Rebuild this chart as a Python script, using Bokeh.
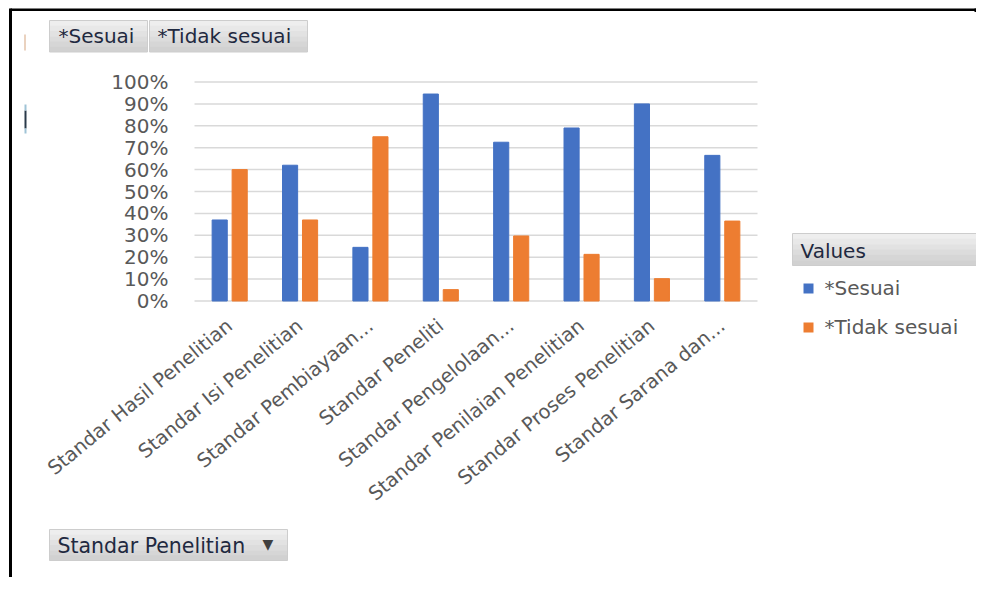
from bokeh.plotting import figure
from bokeh.models import (Range1d, FixedTicker, NumeralTickFormatter,
                          Label, BoxAnnotation, ColumnDataSource)
from bokeh.transform import dodge
from bokeh.embed import file_html
from bokeh.resources import INLINE

# ---- data ----
categories = ["Standar Hasil Penelitian", "Standar Isi Penelitian", "Standar Pembiayaan...",
              "Standar Peneliti", "Standar Pengelolaan...", "Standar Penilaian Penelitian",
              "Standar Proses Penelitian", "Standar Sarana dan..."]
sesuai = [0.37, 0.62, 0.245, 0.945, 0.725, 0.79, 0.90, 0.665]
tidak_sesuai = [0.60, 0.37, 0.75, 0.052, 0.297, 0.213, 0.102, 0.365]
y_ticks = [0.0, 0.1, 0.2, 0.3, 0.4, 0.5, 0.6, 0.7, 0.8, 0.9, 1.0]
series_names = ["*Sesuai", "*Tidak sesuai"]
colors = ["#4472C4", "#ED7D31"]

FONT = "DejaVu Sans"
GRAY = "#595959"
DARK = "#1f2940"
GRID = "#d9d9d9"

# ---- layout in pixels ----
W, H = 976, 577
NCAT = len(categories)
PLOT_L, PLOT_W = 194, 563      # plot-area left edge and width
Y0_PX, UY = 300.5, 219.0       # pixel row of 0 %, pixels per 100 %
UX = PLOT_W / NCAT             # pixels per category

x_range = Range1d(-0.5 - PLOT_L / UX, -0.5 + (W - PLOT_L) / UX)
y_range = Range1d(-(H - Y0_PX) / UY, Y0_PX / UY)

p = figure(width=W, height=H, x_range=x_range, y_range=y_range,
           min_border=0, min_border_left=0, min_border_right=0,
           min_border_top=0, min_border_bottom=0,
           output_backend="svg", toolbar_location=None)
p.outline_line_color = None
p.background_fill_color = "white"
p.border_fill_color = "white"
p.xgrid.visible = False
p.ygrid.visible = False

cat_x = list(range(NCAT))
src = ColumnDataSource(dict(x=cat_x, s=sesuai, t=tidak_sesuai))

# horizontal gridlines over the plot area
p.segment(x0=-0.5, x1=NCAT - 0.5, y0=y_ticks, y1=y_ticks, line_color=GRID, line_width=1.5)

p.vbar(x=dodge("x", -0.142), top="s", width=0.215, source=src,
       fill_color=colors[0], line_color=colors[0])
p.vbar(x=dodge("x", 0.142), top="t", width=0.215, source=src,
       fill_color=colors[1], line_color=colors[1])

# y axis (value axis)
p.yaxis.fixed_location = -0.5
p.yaxis.bounds = (0, 1)
p.yaxis.ticker = FixedTicker(ticks=y_ticks)
p.yaxis.formatter = NumeralTickFormatter(format="0%")
p.yaxis.axis_line_color = None
p.yaxis.major_tick_line_color = None
p.yaxis.minor_tick_line_color = None
p.yaxis.major_tick_out = 0
p.yaxis.minor_tick_out = 0
p.yaxis.major_label_standoff = 26
p.yaxis.major_label_text_font = FONT
p.yaxis.major_label_text_font_size = "20px"
p.yaxis.major_label_text_color = GRAY

# x axis (categories)
p.xaxis.fixed_location = 0
p.xaxis.bounds = (-0.5, NCAT - 0.5)
p.xaxis.ticker = FixedTicker(ticks=cat_x)
p.xaxis.major_label_overrides = {i: c for i, c in zip(cat_x, categories)}
p.xaxis.axis_line_color = None
p.xaxis.major_tick_line_color = None
p.xaxis.minor_tick_line_color = None
p.xaxis.major_tick_out = 0
p.xaxis.minor_tick_out = 0
p.xaxis.major_label_orientation = 0.69
p.xaxis.major_label_standoff = 22
p.xaxis.major_label_text_font = FONT
p.xaxis.major_label_text_font_size = "19.5px"
p.xaxis.major_label_text_color = GRAY


# pixel -> data helpers for the pivot-chart decorations
def fx(px):
    return -0.5 + (px - PLOT_L) / UX


def fy(py):
    return (Y0_PX - py) / UY


def pbox(l, r, t, b, fill, line=None):
    p.add_layout(BoxAnnotation(left=fx(l), right=fx(r), top=fy(t), bottom=fy(b),
                               fill_color=fill, fill_alpha=1.0,
                               line_color=line, line_alpha=1.0 if line else 0.0,
                               line_width=1))


def plabel(x, y, text, size, color):
    p.add_layout(Label(x=fx(x), y=fy(y), text=text,
                       text_font=FONT, text_font_size=size, text_color=color,
                       text_align="left", text_baseline="middle"))


def button(l, r, t, b):
    shades = ["#eeeeee", "#e8e8e8", "#e2e2e2", "#dcdcdc", "#d6d6d6", "#d1d1d1"]
    n = len(shades)
    h = (b - t) / n
    for i, c in enumerate(shades):
        pbox(l, r, t + i * h, min(b, t + (i + 1) * h + 0.6), c)
    pbox(l, r, t, b, None, "#cdcdcd")


# frame lines of the page
pbox(8.5, 11.5, 8, 577, "black")
pbox(10, 978, 8, 10.5, "black")
pbox(974, 978, 8, 11.5, "black")
# small fragments on the left edge
pbox(23.5, 25.5, 34, 50, "#ead2bf")
pbox(24, 26, 110, 128, "#2a3a4a")
pbox(24, 26, 104, 110, "#9fc3d6")
pbox(24, 26, 128, 133, "#9fc3d6")

# top field buttons
button(49, 147, 20, 51.5)
button(149, 307, 20, 51.5)
plabel(58, 35.5, "*Sesuai", "20px", DARK)
plabel(157, 35.5, "*Tidak sesuai", "20px", DARK)

# legend
button(792, 976, 233, 265)
plabel(800, 250, "Values", "20px", DARK)
for i, (name, col) in enumerate(zip(series_names, colors)):
    yc = 288 + i * 39
    pbox(803, 813, yc - 5, yc + 5, col)
    plabel(824, yc - 1, name, "20px", GRAY)

# bottom axis field button
button(49, 287, 529, 560)
plabel(57, 545, "Standar Penelitian", "20.5px", DARK)
plabel(262, 543, "\u25bc", "14px", "#404040")

open("out.html", "w").write(file_html(p, INLINE))
